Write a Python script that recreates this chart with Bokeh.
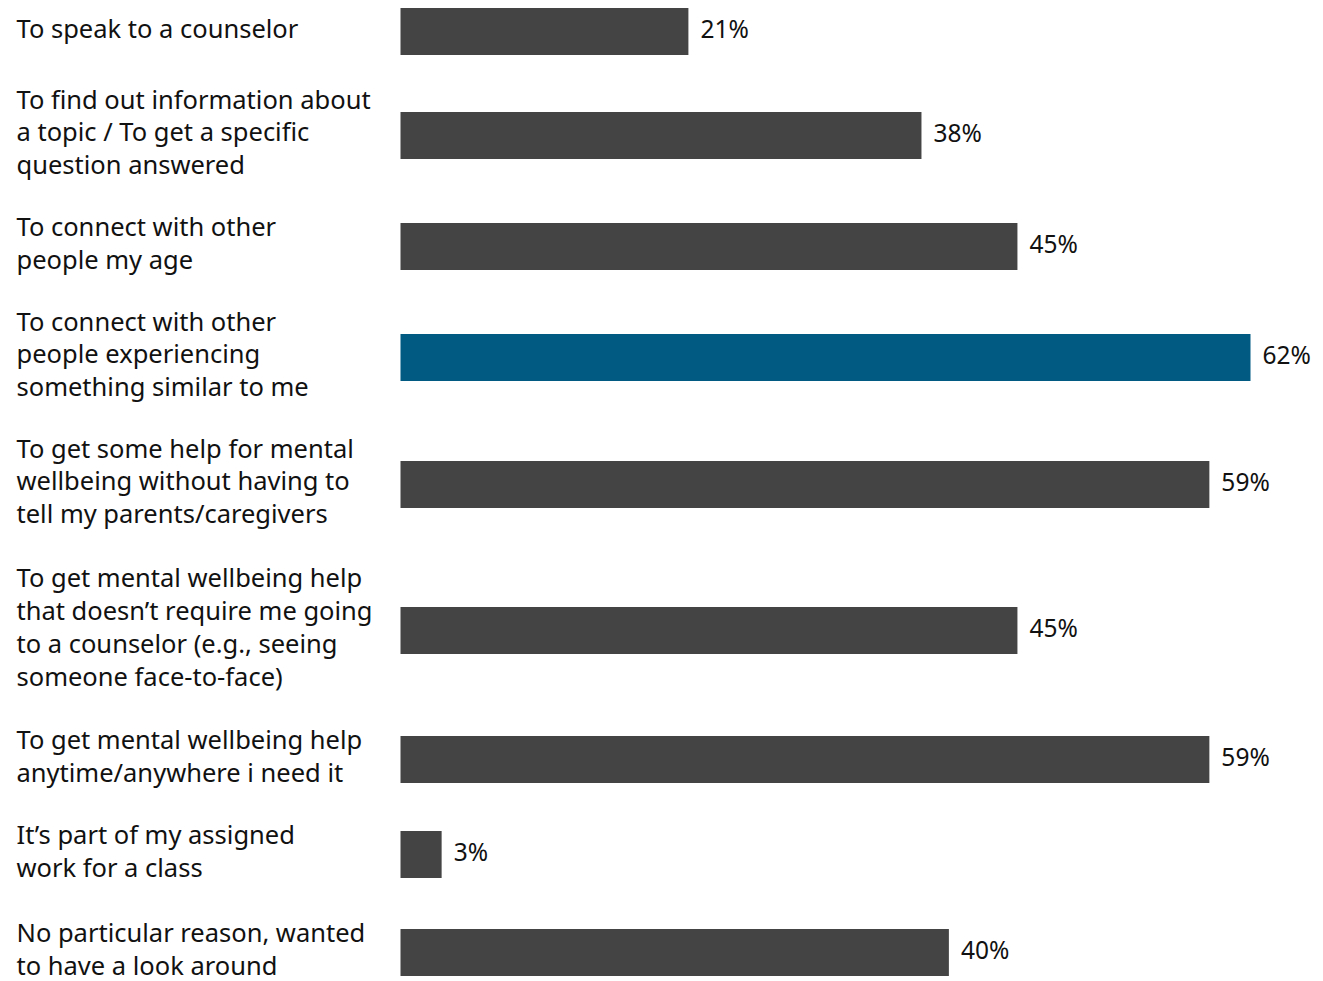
from bokeh.plotting import figure
from bokeh.models import Range1d, ColumnDataSource
from bokeh.core.properties import value
from bokeh.embed import file_html
from bokeh.resources import INLINE

# ---- data ----
reasons = [
    "To speak to a counselor",
    "To find out information about\na topic / To get a specific\nquestion answered",
    "To connect with other\npeople my age",
    "To connect with other\npeople experiencing\nsomething similar to me",
    "To get some help for mental\nwellbeing without having to\ntell my parents/caregivers",
    "To get mental wellbeing help\nthat doesn\u2019t require me going\nto a counselor (e.g., seeing\nsomeone face-to-face)",
    "To get mental wellbeing help\nanytime/anywhere i need it",
    "It\u2019s part of my assigned\nwork for a class",
    "No particular reason, wanted\nto have a look around",
]
percent = [21, 38, 45, 62, 59, 45, 59, 3, 40]
highlight = [False, False, False, True, False, False, False, False, False]

# ---- layout ----
W, H = 1323, 981
px_per_pct = 850 / 62.0
x0_px = 400
row_centers = [31, 135, 246, 357, 484, 630, 759, 854, 952]  # pixel rows
bar_h = 47

colors = ["#005A82" if h else "#444444" for h in highlight]
labels = [f"{v}%" for v in percent]

src = ColumnDataSource(dict(y=row_centers, v=percent, c=colors, lab=labels,
                            reason=reasons, lx=[(16 - x0_px) / px_per_pct] * len(percent)))

p = figure(width=W, height=H, output_backend="svg", toolbar_location=None,
           x_range=Range1d(-x0_px / px_per_pct, (W - x0_px) / px_per_pct),
           y_range=Range1d(H, 0), min_border=0)
p.axis.visible = False
p.grid.visible = False
p.outline_line_color = None
p.background_fill_color = "white"

p.hbar(y="y", left=0, right="v", height=bar_h, fill_color="c", line_color=None, source=src)

p.text(x="v", y="y", text="lab", source=src, x_offset=12, y_offset=-3,
       text_font=value("Noto Sans"), text_font_size="24.5px", text_color="#111111",
       text_baseline="middle", text_align="left")

p.text(x="lx", y="y", text="reason", source=src, y_offset=-4,
       text_font=value("Noto Sans"), text_font_size="25.5px", text_color="#111111",
       text_baseline="middle", text_align="left", text_line_height=0.97)

open("out.html", "w").write(file_html(p, INLINE))
